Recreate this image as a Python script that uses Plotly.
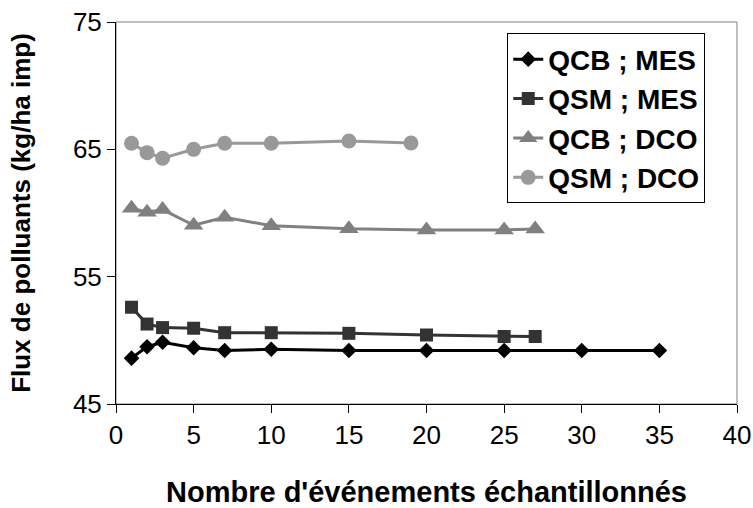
import plotly.graph_objects as go

# nombre d'événements échantillonnés
x_qcb_mes = [1, 2, 3, 5, 7, 10, 15, 20, 25, 30, 35]
y_qcb_mes = [48.6, 49.5, 49.85, 49.42, 49.2, 49.3, 49.2, 49.2, 49.2, 49.2, 49.2]

x_qsm_mes = [1, 2, 3, 5, 7, 10, 15, 20, 25, 27]
y_qsm_mes = [52.6, 51.28, 51.0, 50.95, 50.6, 50.6, 50.55, 50.42, 50.3, 50.3]

x_qcb_dco = [1, 2, 3, 5, 7, 10, 15, 20, 25, 27]
y_qcb_dco = [60.37, 60.06, 60.27, 59.04, 59.67, 59.0, 58.76, 58.67, 58.67, 58.75]

x_qsm_dco = [1, 2, 3, 5, 7, 10, 15, 19]
y_qsm_dco = [65.48, 64.74, 64.3, 65.0, 65.48, 65.48, 65.66, 65.5]

series = [
    ("QCB ; MES", x_qcb_mes, y_qcb_mes, "#000000", "diamond", 12),
    ("QSM ; MES", x_qsm_mes, y_qsm_mes, "#333333", "square", 13),
    ("QCB ; DCO", x_qcb_dco, y_qcb_dco, "#808080", "triangle-up", 17),
    ("QSM ; DCO", x_qsm_dco, y_qsm_dco, "#999999", "circle", 15),
]

font = "Liberation Sans, Arial, sans-serif"

fig = go.Figure()
for name, xs, ys, col, sym, sz in series:
    fig.add_trace(go.Scatter(x=xs, y=ys, mode="lines+markers", name=name,
                             line=dict(color=col, width=3),
                             marker=dict(color=col, symbol=sym, size=sz)))

# cadre gris de la zone de tracé
fig.add_shape(type="rect", xref="x domain", yref="y domain", x0=0, x1=1, y0=0, y1=1,
              line=dict(color="#808080", width=1), layer="below")

fig.update_layout(
    width=753, height=508,
    margin=dict(l=116, r=16, t=22, b=104),
    paper_bgcolor="white", plot_bgcolor="white",
    font=dict(family=font, color="black", size=26),
    legend=dict(x=0.63, y=0.97, xanchor="left", yanchor="top",
                bordercolor="black", borderwidth=1, bgcolor="white",
                font=dict(size=28, family=font, color="black", weight="bold")),
    showlegend=True,
)
fig.update_xaxes(range=[0, 40], tick0=0, dtick=5, showgrid=False, zeroline=False,
                 showline=True, linecolor="black", linewidth=1,
                 ticks="outside", ticklen=8, tickcolor="black",
                 tickfont=dict(size=26), automargin=False,
                 title=dict(text="<b>Nombre d'événements échantillonnés</b>",
                            font=dict(size=29), standoff=32))
fig.update_yaxes(range=[45, 75], tick0=45, dtick=10, showgrid=False, zeroline=False,
                 showline=True, linecolor="black", linewidth=1,
                 ticks="outside", ticklen=8, tickcolor="black",
                 tickfont=dict(size=26), automargin=False,
                 title=dict(text="<b>Flux de polluants (kg/ha imp)</b>",
                            font=dict(size=26), standoff=34))

fig.write_html("out.html", config={"displayModeBar": False},
               post_script="document.body.style.margin='0';")
